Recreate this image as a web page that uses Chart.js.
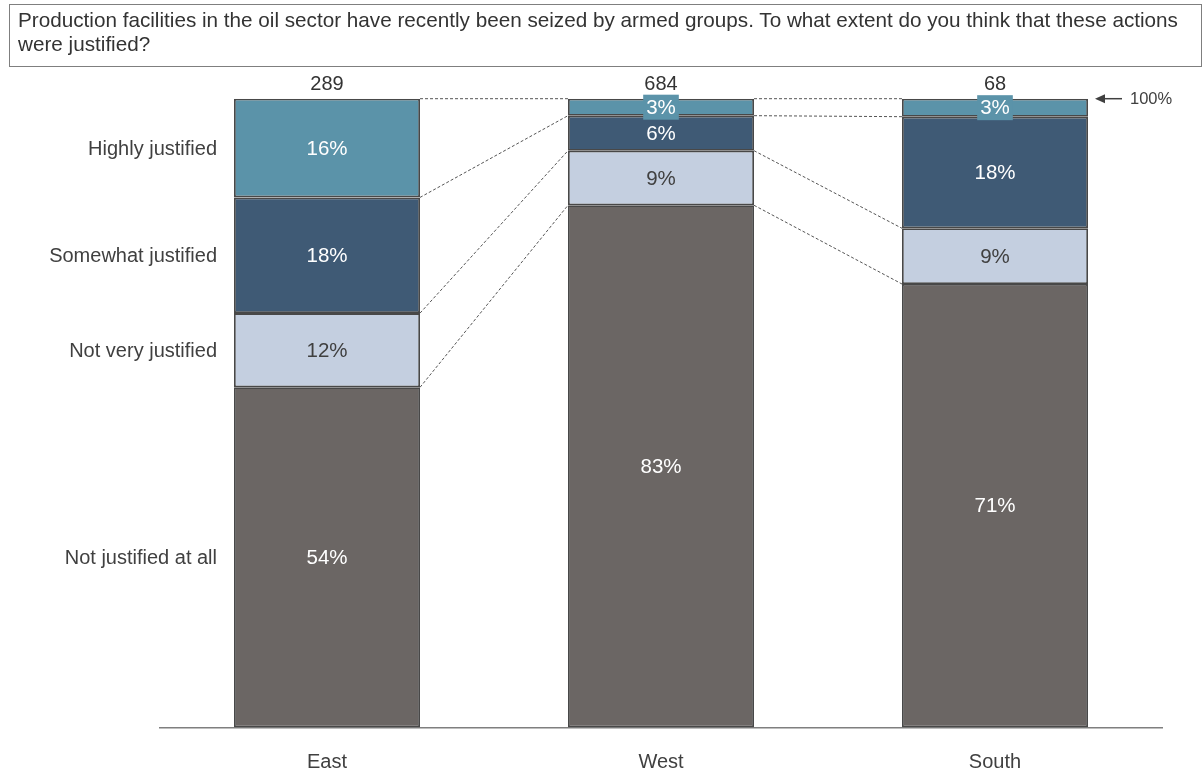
<!DOCTYPE html>
<html>
<head>
<meta charset="utf-8">
<script src="https://cdn.jsdelivr.net/npm/chart.js@4/dist/chart.umd.min.js"></script>
<style>
    body { margin: 0; background: #fff; font-family: "Liberation Sans", Arial, sans-serif; }
    #wrap { position: relative; width: 1203px; height: 774px; }
    #question {
        position: absolute; left: 9px; top: 4px; width: 1175px; height: 56px;
        border: 1px solid #7f7f7f; padding: 3px 8px 2px 8px; color: #333;
        font-size: 20.7px; line-height: 24px; box-sizing: content-box;
    }
    canvas { position: absolute; left: 0; top: 0; }
</style>
</head>
<body>
<div id="wrap">
    <canvas id="chart" width="1203" height="774"></canvas>
    <div id="question">Production facilities in the oil sector have recently been seized by armed groups. To what extent do you think that these actions were justified?</div>
</div>
<script>
// Regiones y tamaños de muestra
const regions = ['East', 'West', 'South'];
const sampleSizes = ['289', '684', '68'];

// Respuestas (de abajo hacia arriba en la pila)
const answers = ['Not justified at all', 'Not very justified', 'Somewhat justified', 'Highly justified'];
const notAtAll = [54.1, 83.05, 70.53];
const notVery = [11.8, 8.68, 8.86];
const somewhat = [18.4, 5.57, 17.75];
const highly = [15.7, 2.7, 2.86];

const colors = ['#6b6664', '#c4cfe0', '#3f5a75', '#5b93a9'];
const labelColors = ['#ffffff', '#404040', '#ffffff', '#ffffff'];
const FONT = '"Liberation Sans", Arial, sans-serif';

// Dibuja conectores, etiquetas de valor, N y etiquetas de respuesta
const overlayPlugin = {
    id: 'overlay',
    afterDatasetsDraw(chart) {
        const ctx = chart.ctx;
        const y = chart.scales.y;
        const metas = chart.data.datasets.map((d, i) => chart.getDatasetMeta(i));
        const series = chart.data.datasets.map(d => d.data);

        // líneas punteadas entre barras vecinas
        ctx.save();
        ctx.strokeStyle = '#555';
        ctx.lineWidth = 1;
        ctx.setLineDash([3, 2]);
        for (let c = 0; c < regions.length - 1; c++) {
            let cumA = 0, cumB = 0;
            for (let s = 0; s < series.length; s++) {
                cumA += series[s][c];
                cumB += series[s][c + 1];
                const barA = metas[s].data[c];
                const barB = metas[s].data[c + 1];
                ctx.beginPath();
                ctx.moveTo(barA.x + barA.width / 2, y.getPixelForValue(Math.min(cumA, 100)));
                ctx.lineTo(barB.x - barB.width / 2, y.getPixelForValue(Math.min(cumB, 100)));
                ctx.stroke();
            }
        }
        ctx.restore();

        // porcentajes dentro de cada segmento
        ctx.save();
        ctx.font = '20.5px ' + FONT;
        ctx.textAlign = 'center';
        ctx.textBaseline = 'middle';
        metas.forEach((meta, s) => {
            meta.data.forEach((bar, c) => {
                const txt = Math.round(series[s][c]) + '%';
                const cy = (bar.y + bar.base) / 2;
                const h = Math.abs(bar.base - bar.y);
                if (h < 24) {
                    const w = ctx.measureText(txt).width + 6;
                    ctx.fillStyle = colors[s];
                    ctx.fillRect(bar.x - w / 2, cy - 12.5, w, 25);
                }
                ctx.fillStyle = labelColors[s];
                ctx.fillText(txt, bar.x, cy + 1);
            });
        });

        // N encima de cada barra
        ctx.font = '20px ' + FONT;
        ctx.fillStyle = '#333';
        metas[0].data.forEach((bar, c) => {
            ctx.fillText(sampleSizes[c], bar.x, 84);
        });

        // etiquetas de respuesta a la izquierda, alineadas con la primera barra
        ctx.textAlign = 'right';
        ctx.fillStyle = '#404040';
        metas.forEach((meta, s) => {
            const bar = meta.data[0];
            ctx.fillText(answers[s], 217, (bar.y + bar.base) / 2 + 1);
        });

        // flecha del 100%
        const top = y.getPixelForValue(100);
        ctx.strokeStyle = '#404040';
        ctx.lineWidth = 1.5;
        ctx.beginPath();
        ctx.moveTo(1122, top);
        ctx.lineTo(1100, top);
        ctx.stroke();
        ctx.beginPath();
        ctx.moveTo(1095, top);
        ctx.lineTo(1105, top - 4.5);
        ctx.lineTo(1105, top + 4.5);
        ctx.closePath();
        ctx.fill();
        ctx.font = '16.5px ' + FONT;
        ctx.textAlign = 'left';
        ctx.fillText('100%', 1130, top + 1);
        ctx.restore();
    }
};

const seriesData = [notAtAll, notVery, somewhat, highly];

new Chart(document.getElementById('chart'), {
    type: 'bar',
    data: {
        labels: regions,
        datasets: answers.map((name, i) => ({
            label: name,
            data: seriesData[i],
            backgroundColor: colors[i],
            borderColor: '#484848',
            borderWidth: 1.8,
            borderSkipped: false,
            barPercentage: 0.557,
            categoryPercentage: 1
        }))
    },
    options: {
        responsive: false,
        animation: false,
        layout: { padding: { top: 98.7, left: 160, right: 41, bottom: 0 } },
        plugins: { legend: { display: false }, tooltip: { enabled: false } },
        scales: {
            x: {
                stacked: true,
                grid: { display: false },
                border: { color: '#7f7f7f', width: 1.5 },
                ticks: { color: '#404040', font: { family: FONT, size: 20 }, padding: 14.5 },
                afterFit(scale) { scale.height = 46.5; }
            },
            y: { stacked: true, display: false, min: 0, max: 100 }
        }
    },
    plugins: [overlayPlugin]
});
</script>
</body>
</html>
